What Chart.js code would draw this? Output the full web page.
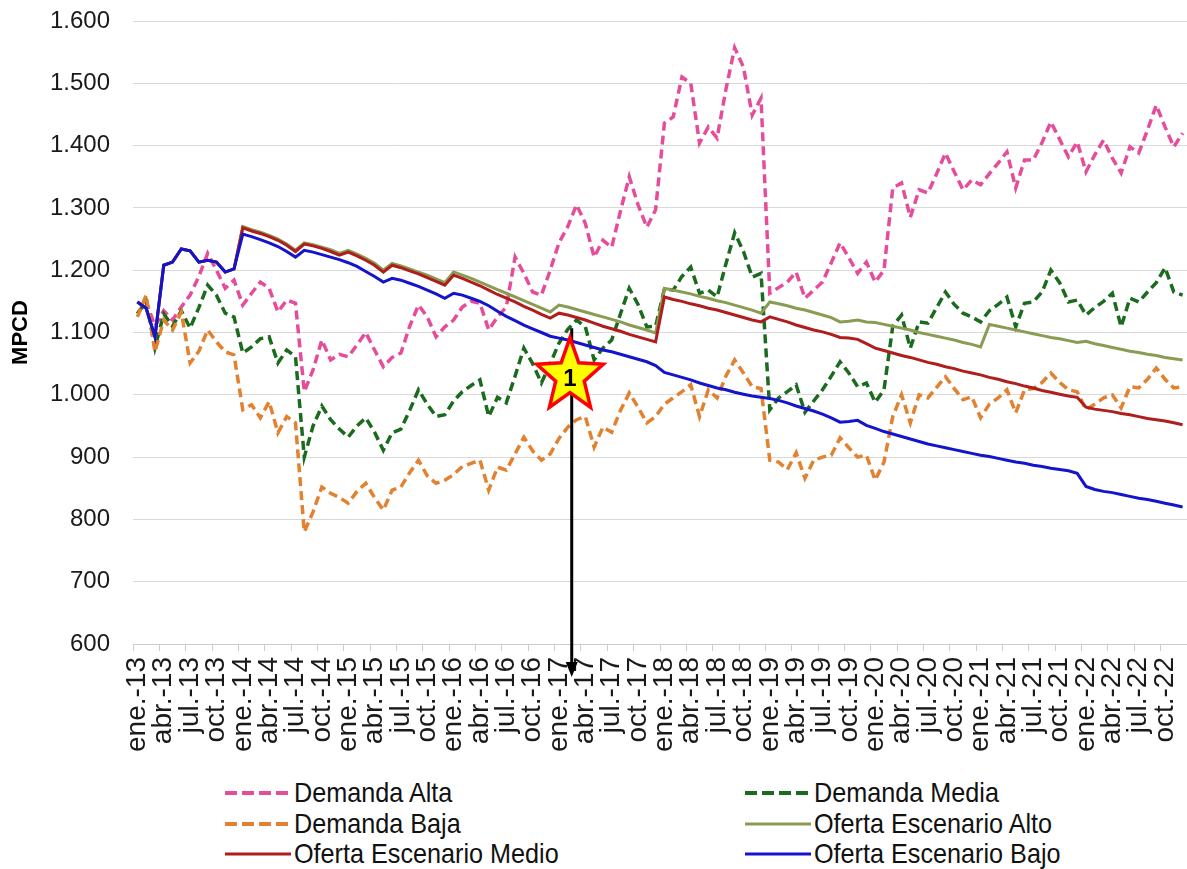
<!DOCTYPE html>
<html lang="es">
<head>
<meta charset="UTF-8">
<title>Oferta y demanda - MPCD</title>
<script src="https://cdn.jsdelivr.net/npm/chart.js"></script>
<style>
  body { margin: 0; background: #fff; font-family: "Liberation Sans", Arial, sans-serif; }
  #wrap { position: relative; width: 1187px; height: 869px; overflow: hidden; }
  #chartBox { position: absolute; left: 0; top: 0; width: 1187px; height: 770px; }
  .legend-item { position: absolute; height: 30px; display: flex; align-items: center; }
  .legend-item span { font-size: 28px; line-height: 30px; color: #111; margin-left: 3px; white-space: nowrap;
                      transform: scaleX(0.9); transform-origin: left center; }
</style>
</head>
<body>
<div id="wrap">
  <div id="chartBox"><canvas id="chart"></canvas></div>
  <div id="legend"></div>
</div>

<script>
// categories: monthly, ene-13 .. dic-22
const monthNames = ['ene.', 'feb.', 'mar.', 'abr.', 'may.', 'jun.', 'jul.', 'ago.', 'sept.', 'oct.', 'nov.', 'dic.'];
const years = ['13', '14', '15', '16', '17', '18', '19', '20', '21', '22'];
const labels = [];
years.forEach(y => monthNames.forEach(m => labels.push(m + '-' + y)));

// y axis
const yMin = 600, yMax = 1600, yStep = 100;

// series (MPCD), one row per year
const demandaAlta = [
  1130, 1150, 1110, 1135, 1120, 1141, 1160, 1190, 1227, 1200, 1171, 1184,
  1144, 1163, 1181, 1171, 1133, 1152, 1147, 1005, 1040, 1088, 1056, 1065,
  1061, 1080, 1100, 1072, 1045, 1060, 1067, 1110, 1144, 1125, 1093, 1109,
  1120, 1141, 1150, 1147, 1104, 1125, 1141, 1221, 1195, 1165, 1160, 1200,
  1244, 1270, 1305, 1275, 1221, 1248, 1237, 1295, 1350, 1305, 1269, 1297,
  1436, 1446, 1510, 1500, 1404, 1430, 1412, 1490, 1557, 1526, 1449, 1476,
  1163, 1172, 1181, 1197, 1155, 1168, 1181, 1212, 1244, 1220, 1195, 1213,
  1181, 1200, 1332, 1340, 1285, 1329, 1324, 1355, 1388, 1358, 1329, 1345,
  1337, 1355, 1372, 1390, 1332, 1377, 1377, 1405, 1438, 1410, 1382, 1406,
  1358, 1385, 1409, 1380, 1356, 1398, 1388, 1425, 1465, 1430, 1398, 1420
];
const demandaMedia = [
  1130, 1150, 1075, 1130, 1110, 1135, 1107, 1140, 1176, 1160, 1131, 1125,
  1067, 1077, 1090, 1093, 1051, 1072, 1061, 900, 950, 982, 960, 945,
  932, 950, 963, 940, 911, 939, 945, 975, 1008, 985, 965, 968,
  990, 1005, 1015, 1024, 965, 996, 987, 1030, 1075, 1050, 1019, 1050,
  1083, 1105, 1120, 1109, 1056, 1075, 1088, 1130, 1171, 1145, 1109, 1110,
  1170, 1168, 1190, 1205, 1163, 1168, 1157, 1210, 1260, 1230, 1189, 1195,
  976, 995, 1005, 1016, 972, 990, 1008, 1030, 1053, 1035, 1013, 1019,
  988, 1008, 1110, 1128, 1075, 1117, 1115, 1140, 1165, 1145, 1131, 1125,
  1117, 1135, 1145, 1157, 1109, 1147, 1149, 1165, 1200, 1180, 1149, 1152,
  1128, 1140, 1150, 1163, 1109, 1155, 1149, 1165, 1180, 1204, 1165, 1160
];
const demandaBaja = [
  1125, 1160, 1069, 1120, 1104, 1133, 1051, 1070, 1104, 1085, 1069, 1064,
  976, 984, 963, 989, 939, 965, 955, 780, 812, 852, 842, 835,
  826, 845, 858, 835, 815, 847, 852, 875, 895, 870, 858, 863,
  872, 885, 890, 895, 847, 884, 879, 905, 932, 910, 895, 905,
  930, 948, 960, 965, 916, 948, 940, 975, 1003, 980, 955, 965,
  985, 995, 1005, 1016, 965, 1008, 995, 1030, 1056, 1035, 1013, 1010,
  895, 892, 880, 907, 866, 895, 900, 903, 931, 915, 900, 903,
  863, 892, 965, 1000, 955, 1000, 995, 1012, 1029, 1010, 992, 997,
  963, 985, 995, 1008, 971, 1008, 1010, 1020, 1035, 1020, 1008, 1005,
  976, 985, 995, 1000, 979, 1013, 1011, 1025, 1043, 1025, 1011, 1013
];
const ofertaAlto = [
  1149, 1139, 1093, 1208, 1213, 1234, 1231, 1213, 1216, 1213, 1197, 1202,
  1270, 1265, 1261, 1256, 1250, 1242, 1232, 1244, 1241, 1237, 1233, 1227,
  1232, 1226, 1219, 1211, 1200, 1211, 1207, 1202, 1197, 1192, 1186, 1180,
  1197, 1192, 1187, 1181, 1175, 1169, 1163, 1157, 1151, 1145, 1139, 1133,
  1144, 1141, 1137, 1133, 1129, 1125, 1121, 1117, 1112, 1108, 1104, 1099,
  1171, 1168, 1165, 1162, 1158, 1155, 1151, 1148, 1144, 1140, 1136, 1131,
  1149, 1146, 1143, 1139, 1136, 1132, 1128, 1124, 1117, 1118, 1120, 1117,
  1116, 1113, 1110, 1107, 1104, 1100, 1097, 1094, 1091, 1088, 1084, 1081,
  1077, 1113, 1110, 1107, 1104, 1101, 1098, 1095, 1092, 1090, 1087, 1084,
  1086, 1082, 1079, 1076, 1073, 1070, 1068, 1065, 1063, 1060, 1058, 1056
];
const ofertaMedio = [
  1149, 1139, 1093, 1208, 1213, 1234, 1231, 1213, 1216, 1213, 1197, 1202,
  1268, 1263, 1259, 1254, 1248, 1240, 1230, 1242, 1239, 1235, 1230, 1224,
  1229, 1223, 1216, 1208, 1197, 1208, 1204, 1199, 1194, 1188, 1182, 1176,
  1192, 1187, 1181, 1175, 1168, 1161, 1155, 1149, 1142, 1136, 1129, 1123,
  1131, 1128, 1124, 1120, 1115, 1110, 1106, 1102, 1097, 1093, 1089, 1085,
  1157, 1153, 1150, 1146, 1143, 1139, 1136, 1132, 1128, 1124, 1120, 1117,
  1125, 1121, 1117, 1112, 1108, 1104, 1101, 1097, 1092, 1091, 1089, 1082,
  1075, 1071, 1067, 1063, 1060, 1056, 1052, 1049, 1045, 1042, 1038, 1035,
  1032, 1028, 1025, 1021, 1018, 1014, 1011, 1007, 1004, 1001, 998, 996,
  980, 977, 975, 973, 970, 968, 965, 962, 960, 958, 955, 952
];
const ofertaBajo = [
  1149, 1139, 1093, 1208, 1213, 1234, 1231, 1213, 1216, 1213, 1197, 1202,
  1258, 1254, 1249, 1244, 1238, 1230, 1221, 1232, 1229, 1225, 1221, 1217,
  1212, 1206, 1198, 1190, 1181, 1187, 1184, 1179, 1174, 1168, 1162, 1155,
  1163, 1160, 1155, 1150, 1143, 1134, 1126, 1119, 1112, 1106, 1100, 1094,
  1091, 1088, 1084, 1080, 1076, 1072, 1069, 1065, 1061, 1057, 1053, 1047,
  1036, 1032, 1028, 1024, 1019, 1015, 1011, 1008, 1004, 1001, 998, 996,
  994, 991, 987, 982, 978, 974, 969, 963, 956, 957, 959, 951,
  946, 941, 937, 933, 929, 925, 921, 918, 915, 912, 909, 906,
  903, 901, 898, 895, 892, 890, 887, 885, 882, 880, 878, 874,
  853, 848, 845, 843, 840, 837, 834, 832, 829, 826, 823, 820
];

const seriesNames = ['Demanda Alta', 'Demanda Media', 'Demanda Baja',
                     'Oferta Escenario Alto', 'Oferta Escenario Medio', 'Oferta Escenario Bajo'];
const seriesData = [demandaAlta, demandaMedia, demandaBaja, ofertaAlto, ofertaMedio, ofertaBajo];
const seriesColors = ['#E54D9B', '#1B6B1F', '#E2812F', '#8A9B52', '#B01D1D', '#1414CC'];
const seriesDashed = [true, true, true, false, false, false];

// annotation "1": star + arrow (category index, value)
const markerIndex = 49.25, markerValue = 1030;
const arrowIndex = 49.45, arrowTop = 1107, arrowBottom = 547;

const datasets = seriesNames.map((name, k) => ({
  label: name,
  data: seriesData[k],
  borderColor: seriesColors[k],
  backgroundColor: seriesColors[k],
  borderWidth: seriesDashed[k] ? 3.5 : 3,
  borderDash: seriesDashed[k] ? [9, 5] : [],
  pointRadius: 0,
  tension: 0,
  fill: false,
  order: 6 - k
}));

function starPath(ctx, cx, cy, rOut, rIn) {
  ctx.beginPath();
  for (let k = 0; k < 10; k++) {
    const r = k % 2 ? rIn : rOut;
    const a = -Math.PI / 2 + k * Math.PI / 5;
    ctx.lineTo(cx + r * Math.cos(a), cy + r * Math.sin(a) * 1.1);
  }
  ctx.closePath();
}

const markerPlugin = {
  id: 'marker',
  afterDatasetsDraw(chart) {
    const { ctx, scales: { x, y } } = chart;
    const ax = x.getPixelForValue(arrowIndex);
    const y0 = y.getPixelForValue(arrowTop);
    const y1 = y.getPixelForValue(arrowBottom);
    ctx.save();
    // arrow
    ctx.strokeStyle = '#000';
    ctx.fillStyle = '#000';
    ctx.lineWidth = 3;
    ctx.beginPath();
    ctx.moveTo(ax, y0);
    ctx.lineTo(ax, y1 - 12);
    ctx.stroke();
    ctx.beginPath();
    ctx.moveTo(ax, y1);
    ctx.lineTo(ax - 6, y1 - 15);
    ctx.lineTo(ax + 6, y1 - 15);
    ctx.closePath();
    ctx.fill();
    // star
    const sx = x.getPixelForValue(markerIndex);
    const sy = y.getPixelForValue(markerValue);
    starPath(ctx, sx, sy, 35, 15);
    ctx.fillStyle = '#FFFF00';
    ctx.fill();
    ctx.lineWidth = 3.5;
    ctx.strokeStyle = '#FF0000';
    ctx.lineJoin = 'miter';
    ctx.stroke();
    ctx.fillStyle = '#000';
    ctx.font = 'bold 24px "Liberation Sans", Arial, sans-serif';
    ctx.textAlign = 'center';
    ctx.textBaseline = 'middle';
    ctx.fillText('1', sx, sy + 3);
    ctx.restore();
  }
};

Chart.defaults.font.family = '"Liberation Sans", Arial, sans-serif';
Chart.defaults.color = '#1a1a1a';

const chart = new Chart(document.getElementById('chart'), {
  type: 'line',
  data: { labels: labels, datasets: datasets },
  options: {
    responsive: true,
    maintainAspectRatio: false,
    animation: false,
    layout: { padding: { top: 21, right: 0, bottom: 0, left: 0 } },
    plugins: { legend: { display: false }, tooltip: { enabled: false } },
    scales: {
      x: {
        offset: true,
        grid: {
          drawOnChartArea: false,
          offset: true,
          tickLength: 7,
          color: c => (c.index % 3 === 0 ? '#cccccc' : 'rgba(0,0,0,0)')
        },
        border: { color: '#cccccc' },
        ticks: {
          autoSkip: false,
          maxRotation: 90,
          minRotation: 90,
          padding: 6,
          font: { size: 28 },
          callback: (v, i) => (i % 3 === 0 ? labels[i] : '')
        },
        afterFit: s => { s.height = 126; s.paddingLeft = 0; s.paddingRight = 0; }
      },
      y: {
        min: yMin,
        max: yMax,
        grid: { color: '#d9d9d9', drawTicks: false },
        border: { display: false },
        ticks: {
          stepSize: yStep,
          padding: 23,
          font: { size: 24 },
          callback: v => v.toLocaleString('de-DE')
        },
        title: {
          display: true,
          text: 'MPCD',
          color: '#000',
          font: { size: 22, weight: 'bold' },
          padding: { top: 8, bottom: 0 }
        },
        afterFit: s => { s.width = 133; s.paddingTop = 0; s.paddingBottom = 0; }
      }
    }
  },
  plugins: [markerPlugin]
});

// legend, two columns of three rows
const legendCols = [225, 745];
const legendRows = [795, 826, 856];
const legendBox = document.getElementById('legend');
seriesNames.forEach((name, k) => {
  const item = document.createElement('div');
  item.className = 'legend-item';
  item.style.left = legendCols[k % 2] + 'px';
  item.style.top = (legendRows[Math.floor(k / 2)] - 17) + 'px';
  const dash = seriesDashed[k] ? ' stroke-dasharray="12 5"' : '';
  item.innerHTML = '<svg width="66" height="10"><line x1="0" y1="5" x2="66" y2="5" stroke="' +
    seriesColors[k] + '" stroke-width="' + (seriesDashed[k] ? 4 : 3) + '"' + dash + '/></svg>' +
    '<span>' + name + '</span>';
  legendBox.appendChild(item);
});
</script>
</body>
</html>
